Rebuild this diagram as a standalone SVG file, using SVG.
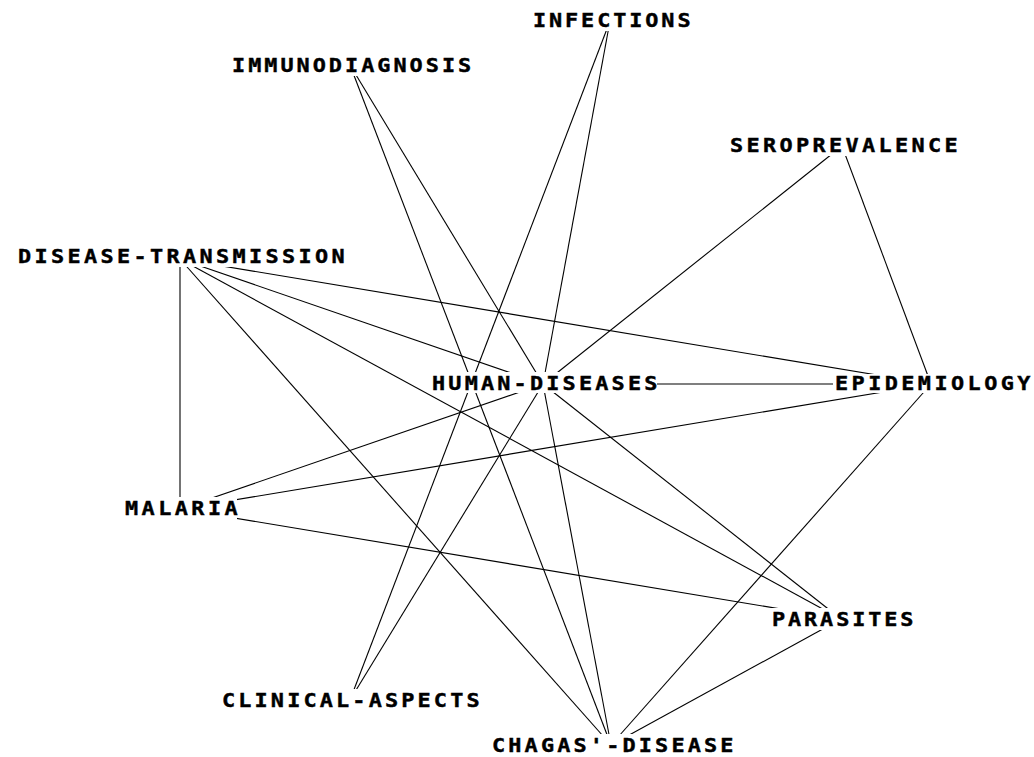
<svg xmlns="http://www.w3.org/2000/svg" width="1034" height="757" viewBox="0 0 1034 757">
<style>
.e{stroke:#000;stroke-width:1.1;fill:none}
.b{fill:#fff;stroke:none}
.t{font-family:"DejaVu Sans Mono","Liberation Mono",monospace;font-weight:bold;font-size:19px;fill:#000;stroke:#000;stroke-width:0.4}
</style>
<rect width="1034" height="757" fill="#fff"/>
<g id="connectors">
<line class="e" x1="610" y1="21" x2="350" y2="700"/>
<line class="e" x1="610" y1="21" x2="543" y2="384"/>
<line class="e" x1="350" y1="65" x2="543" y2="384"/>
<line class="e" x1="350" y1="65" x2="611" y2="745"/>
<line class="e" x1="842" y1="146" x2="543" y2="384"/>
<line class="e" x1="842" y1="146" x2="931" y2="384"/>
<line class="e" x1="180" y1="259" x2="180" y2="509"/>
<line class="e" x1="180" y1="259" x2="611" y2="745"/>
<line class="e" x1="180" y1="259" x2="841" y2="619"/>
<line class="e" x1="180" y1="259" x2="543" y2="384"/>
<line class="e" x1="180" y1="259" x2="931" y2="384"/>
<line class="e" x1="543" y1="384" x2="931" y2="384"/>
<line class="e" x1="180" y1="509" x2="543" y2="384"/>
<line class="e" x1="180" y1="509" x2="931" y2="384"/>
<line class="e" x1="180" y1="509" x2="841" y2="619"/>
<line class="e" x1="543" y1="384" x2="350" y2="700"/>
<line class="e" x1="543" y1="384" x2="841" y2="619"/>
<line class="e" x1="543" y1="384" x2="611" y2="745"/>
<line class="e" x1="931" y1="384" x2="611" y2="745"/>
<line class="e" x1="841" y1="619" x2="611" y2="745"/>
</g>
<g id="n-infections"><rect class="b" x="531" y="9" width="159" height="22"/><text class="t" transform="translate(533,27) scale(1.15,1)" textLength="137" lengthAdjust="spacing">INFECTIONS</text></g>
<g id="n-immunodiagnosis"><rect class="b" x="230" y="54" width="240" height="22"/><text class="t" transform="translate(232,72) scale(1.15,1)" textLength="208" lengthAdjust="spacing">IMMUNODIAGNOSIS</text></g>
<g id="n-seroprevalence"><rect class="b" x="728" y="134" width="229" height="22"/><text class="t" transform="translate(730,152) scale(1.15,1)" textLength="198" lengthAdjust="spacing">SEROPREVALENCE</text></g>
<g id="n-disease-transmission"><rect class="b" x="16" y="245" width="328" height="22"/><text class="t" transform="translate(18,263) scale(1.15,1)" textLength="284" lengthAdjust="spacing">DISEASE-TRANSMISSION</text></g>
<g id="n-human-diseases"><rect class="b" x="430" y="372" width="227" height="21"/><text class="t" transform="translate(432,390) scale(1.15,1)" textLength="196" lengthAdjust="spacing">HUMAN-DISEASES</text></g>
<g id="n-epidemiology"><rect class="b" x="833" y="374" width="197" height="19"/><text class="t" transform="translate(835,390) scale(1.15,1)" textLength="170" lengthAdjust="spacing">EPIDEMIOLOGY</text></g>
<g id="n-malaria"><rect class="b" x="123" y="497" width="114" height="22"/><text class="t" transform="translate(125,515) scale(1.15,1)" textLength="98" lengthAdjust="spacing">MALARIA</text></g>
<g id="n-parasites"><rect class="b" x="770" y="608" width="142" height="22"/><text class="t" transform="translate(772,626) scale(1.15,1)" textLength="123" lengthAdjust="spacing">PARASITES</text></g>
<g id="n-clinical-aspects"><rect class="b" x="220" y="689" width="259" height="22"/><text class="t" transform="translate(222,707) scale(1.15,1)" textLength="224" lengthAdjust="spacing">CLINICAL-ASPECTS</text></g>
<g id="n-chagas-disease"><rect class="b" x="490" y="734" width="242" height="22"/><text class="t" transform="translate(492,752) scale(1.15,1)" textLength="210" lengthAdjust="spacing">CHAGAS'-DISEASE</text></g>
</svg>
